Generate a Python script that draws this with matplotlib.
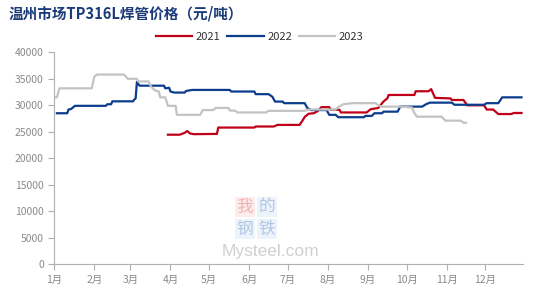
import pandas as pd
import matplotlib.pyplot as plt

plt.rcParams['font.family'] = ['Noto Sans CJK SC', 'DejaVu Sans']

# dates (month-day) and prices, 元/吨
dates_2021 = ['03-30', '04-08', '04-12', '04-14', '04-16', '04-19', '05-07', '05-08', '06-05',
              '06-06', '06-20', '06-23', '07-10', '07-12', '07-14', '07-17', '07-21', '07-24',
              '07-27', '08-02', '08-03', '08-10', '08-11', '08-31', '09-03', '09-09', '09-13',
              '09-16', '09-17', '10-07', '10-08', '10-18', '10-20', '10-23', '11-04', '11-05',
              '11-14', '11-17', '11-30', '12-02', '12-07', '12-11', '12-21', '12-23', '12-29']
price_2021 = [24450, 24450, 24800, 25150, 24700, 24550, 24600, 25800, 25800,
              26000, 26000, 26300, 26300, 27000, 27800, 28400, 28500, 28900,
              29650, 29650, 29150, 29150, 28650, 28650, 29250, 29500, 30700,
              31300, 31950, 31950, 32650, 32650, 33050, 31400, 31300, 31000,
              31000, 30000, 30000, 29200, 29200, 28350, 28350, 28550, 28550]

dates_2022 = ['01-03', '01-11', '01-12', '01-14', '01-17', '02-10', '02-11', '02-14', '02-15',
              '03-03', '03-04', '03-05', '03-06', '03-08', '03-27', '03-28', '03-31', '04-01',
              '04-04', '04-12', '04-13', '04-18', '05-17', '05-18', '06-05', '06-06', '06-16',
              '06-19', '06-21', '06-27', '06-28', '07-14', '07-16', '07-19', '07-31', '08-02',
              '08-07', '08-09', '08-29', '08-30', '09-04', '09-06', '09-12', '09-13', '09-24',
              '09-26', '10-13', '10-16', '10-19', '11-05', '11-07', '11-30', '12-02', '12-11',
              '12-14', '12-29']
price_2022 = [28500, 28500, 29200, 29300, 29900, 29900, 30200, 30200, 30750,
              30750, 31100, 31300, 34400, 33700, 33700, 33200, 33300, 32600,
              32400, 32400, 32700, 32900, 32900, 32600, 32600, 32100, 32100,
              31600, 30700, 30700, 30400, 30400, 29500, 29100, 29100, 28200,
              28200, 27750, 27750, 28000, 28000, 28500, 28500, 28800, 28800,
              29750, 29750, 30200, 30500, 30500, 30100, 30100, 30400, 30400,
              31500, 31500]

dates_2023 = ['01-01', '01-03', '01-05', '01-30', '02-01', '02-03', '02-24', '02-27', '03-06',
              '03-07', '03-15', '03-17', '03-20', '03-23', '03-24', '03-28', '03-30', '04-05',
              '04-06', '04-24', '04-26', '05-04', '05-06', '05-16', '05-17', '05-21', '05-23',
              '06-14', '06-16', '07-14', '07-17', '08-07', '08-09', '08-13', '08-20', '09-07',
              '09-09', '09-12', '09-25', '10-05', '10-07', '10-09', '10-28', '10-31', '11-12',
              '11-14', '11-16']
price_2023 = [31500, 31500, 33200, 33200, 35400, 35800, 35800, 35000, 35000,
              34500, 34500, 33500, 32800, 32600, 31500, 31500, 29900, 29900,
              28200, 28200, 29100, 29100, 29500, 29500, 29000, 29000, 28650,
              28650, 28950, 28950, 29200, 29200, 29700, 30200, 30400, 30400,
              30000, 29750, 29750, 29600, 28500, 27850, 27850, 27100, 27100,
              26700, 26700]

month_labels = [f'{m}月' for m in range(1, 13)]
y_ticks = list(range(0, 40001, 5000))


def to_day(dates):
    return pd.to_datetime(['2021-' + d for d in dates]).dayofyear - 1


fig = plt.figure(figsize=(5.41, 2.92), dpi=100)
ax = fig.add_axes([0.1004, 0.0949, 0.866, 0.726])

ax.plot(to_day(dates_2021), price_2021, color='#c00018', lw=1.6, label='2021')
ax.plot(to_day(dates_2022), price_2022, color='#0b3d8c', lw=1.6, label='2022')
ax.plot(to_day(dates_2023), price_2023, color='#c3c3c3', lw=1.6, label='2023')

month_starts = pd.date_range('2021-01-01', periods=12, freq='MS').dayofyear - 1
ax.set_xticks(month_starts)
ax.set_xticklabels(month_labels)
ax.set_xlim(0, 363)
ax.set_ylim(0, 40000)
ax.set_yticks(y_ticks)

for s in ['top', 'right']:
    ax.spines[s].set_visible(False)
for s in ['left', 'bottom']:
    ax.spines[s].set_color('#b0b0b0')
    ax.spines[s].set_linewidth(0.8)
ax.tick_params(colors='#b0b0b0', labelcolor='#8a8a8a', labelsize=7.5, length=4, width=0.8)

# title and legend
fig.text(0.015, 0.955, '温州市场TP316L焊管价格（元/吨）', fontsize=10.5, fontweight='bold',
         color='#1b3a78', ha='left', va='center')
fig.legend(loc='center', bbox_to_anchor=(0.48, 0.875), ncol=3, frameon=False,
           fontsize=8, handlelength=3.3, handletextpad=0.3, columnspacing=0.6,
           labelcolor='#333333')

# watermark
wm = [('我', 0.453, 0.29, '#f0a8a8', '#fbe6e6'), ('的', 0.494, 0.29, '#a8c0e0', '#e6eef8'),
      ('钢', 0.453, 0.215, '#a8c0e0', '#e6eef8'), ('铁', 0.494, 0.215, '#a8c0e0', '#e6eef8')]
for ch, x, y, c, bg in wm:
    fig.text(x, y, ch, fontsize=12, color=c, ha='center', va='center', alpha=0.85,
             bbox=dict(boxstyle='square,pad=0.1', fc=bg, ec='none', alpha=0.7))
fig.text(0.41, 0.138, 'Mysteel.com', fontsize=12.5, color='#d0d0d0', ha='left', va='center',
         family='Liberation Sans')

fig.savefig('out.png', dpi=100)
